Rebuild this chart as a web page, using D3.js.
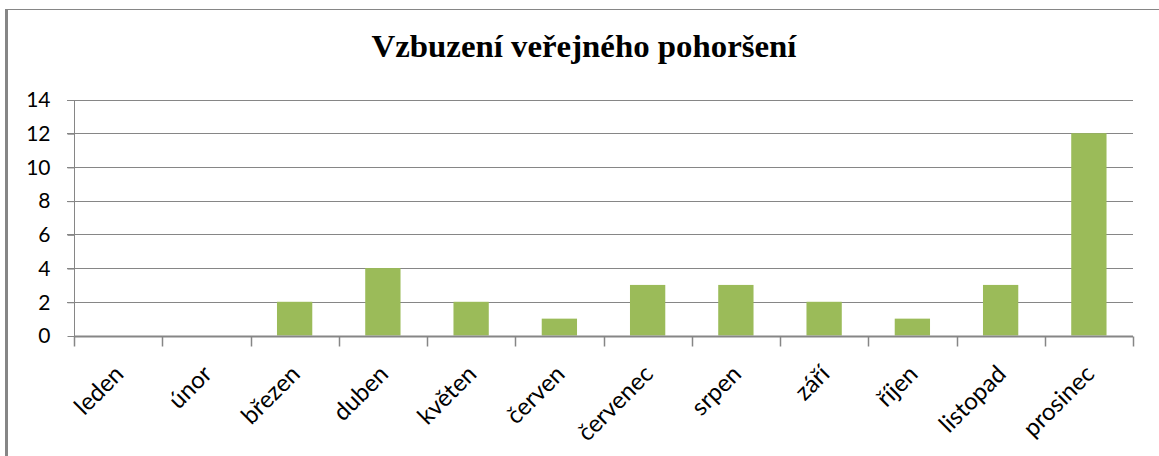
<!DOCTYPE html>
<html>
<head>
<meta charset="utf-8">
<title>Vzbuzení veřejného pohoršení</title>
<script src="https://cdn.jsdelivr.net/npm/d3@7"></script>
<style>
  body { margin: 0; background: #fff; }
  svg { display: block; }
  .tick text { font-family: Lato, "Open Sans", sans-serif; fill: #000; }
</style>
</head>
<body>
<svg id="chart" width="1159" height="456"></svg>
<script>
// data
var months = ['leden', 'únor', 'březen', 'duben', 'květen', 'červen',
  'červenec', 'srpen', 'září', 'říjen', 'listopad', 'prosinec'];
var counts = [0, 0, 2, 4, 2, 1, 3, 3, 2, 1, 3, 12];
var yTicks = [0, 2, 4, 6, 8, 10, 12, 14];
var title = 'Vzbuzení veřejného pohoršení';

var svg = d3.select('#chart');
var grey = '#868686';

// frame (only top + left visible in the crop)
svg.append('line').attr('x1', 5).attr('x2', 1159).attr('y1', 9.5).attr('y2', 9.5)
  .attr('stroke', grey).attr('stroke-width', 1);
svg.append('line').attr('x1', 6.5).attr('x2', 6.5).attr('y1', 9).attr('y2', 456)
  .attr('stroke', grey).attr('stroke-width', 3);

// plot area (note: "top" is a reserved window global, so don't use it)
var plotL = 74, plotR = 1133, plotT = 99.5, plotB = 335.5;

var x = d3.scaleBand().domain(months).range([plotL, plotR]).paddingInner(0.6).paddingOuter(0.3);
var xb = d3.scaleBand().domain(months).range([plotL, plotR]); // category tick positions
var y = d3.scaleLinear().domain([0, 14]).range([plotB, plotT]);

// gridlines
svg.append('g').selectAll('line').data(yTicks.filter(function(d){ return d > 0; })).join('line')
  .attr('x1', plotL - 7).attr('x2', plotR)
  .attr('y1', function(d){ return Math.round(y(d)) + 0.5; })
  .attr('y2', function(d){ return Math.round(y(d)) + 0.5; })
  .attr('stroke', grey).attr('stroke-width', 1);

// y axis
var yAxis = svg.append('g').attr('transform', 'translate(' + (plotL + 0.5) + ',0.5)')
  .call(d3.axisLeft(y).tickValues(yTicks).tickSize(7).tickPadding(17));
yAxis.select('.domain').attr('stroke', grey).attr('d', 'M0,' + Math.round(y(14)) + 'V' + Math.round(y(0)));
yAxis.selectAll('.tick line').attr('stroke', grey);
yAxis.selectAll('.tick text').attr('font-size', 21);

// bars
svg.append('g').selectAll('rect').data(counts).join('rect')
  .attr('x', function(d, i){ return x(months[i]); })
  .attr('width', x.bandwidth())
  .attr('y', function(d){ return y(d); })
  .attr('height', function(d){ return y(0) - y(d); })
  .attr('fill', '#9BBB59');

// x axis
var xAxis = svg.append('g').attr('transform', 'translate(0,' + (Math.round(plotB) + 0.5) + ')');
xAxis.append('line').attr('x1', plotL).attr('x2', plotR).attr('stroke', grey).attr('stroke-width', 2);
xAxis.selectAll('.ct').data(d3.range(months.length + 1)).join('line').attr('class', 'ct')
  .attr('x1', function(i){ return Math.round(plotL + i * xb.step()) + 0.5; })
  .attr('x2', function(i){ return Math.round(plotL + i * xb.step()) + 0.5; })
  .attr('y1', 0).attr('y2', 10)
  .attr('stroke', grey).attr('stroke-width', 1.5);

xAxis.selectAll('text').data(months).join('text')
  .attr('transform', function(d){
    return 'translate(' + (xb(d) + xb.bandwidth() / 2 + 1) + ',33) rotate(-45)';
  })
  .attr('text-anchor', 'end')
  .attr('dy', '0.35em')
  .attr('font-family', 'Lato, "Open Sans", sans-serif')
  .attr('font-size', 24)
  .text(function(d){ return d; });

// title
svg.append('text')
  .attr('x', 584).attr('y', 57)
  .attr('text-anchor', 'middle')
  .attr('font-family', '"Liberation Serif", "DejaVu Serif", serif')
  .attr('font-weight', 'bold')
  .attr('font-size', 31)
  .attr('textLength', 425)
  .attr('lengthAdjust', 'spacingAndGlyphs')
  .text(title);
</script>
</body>
</html>
